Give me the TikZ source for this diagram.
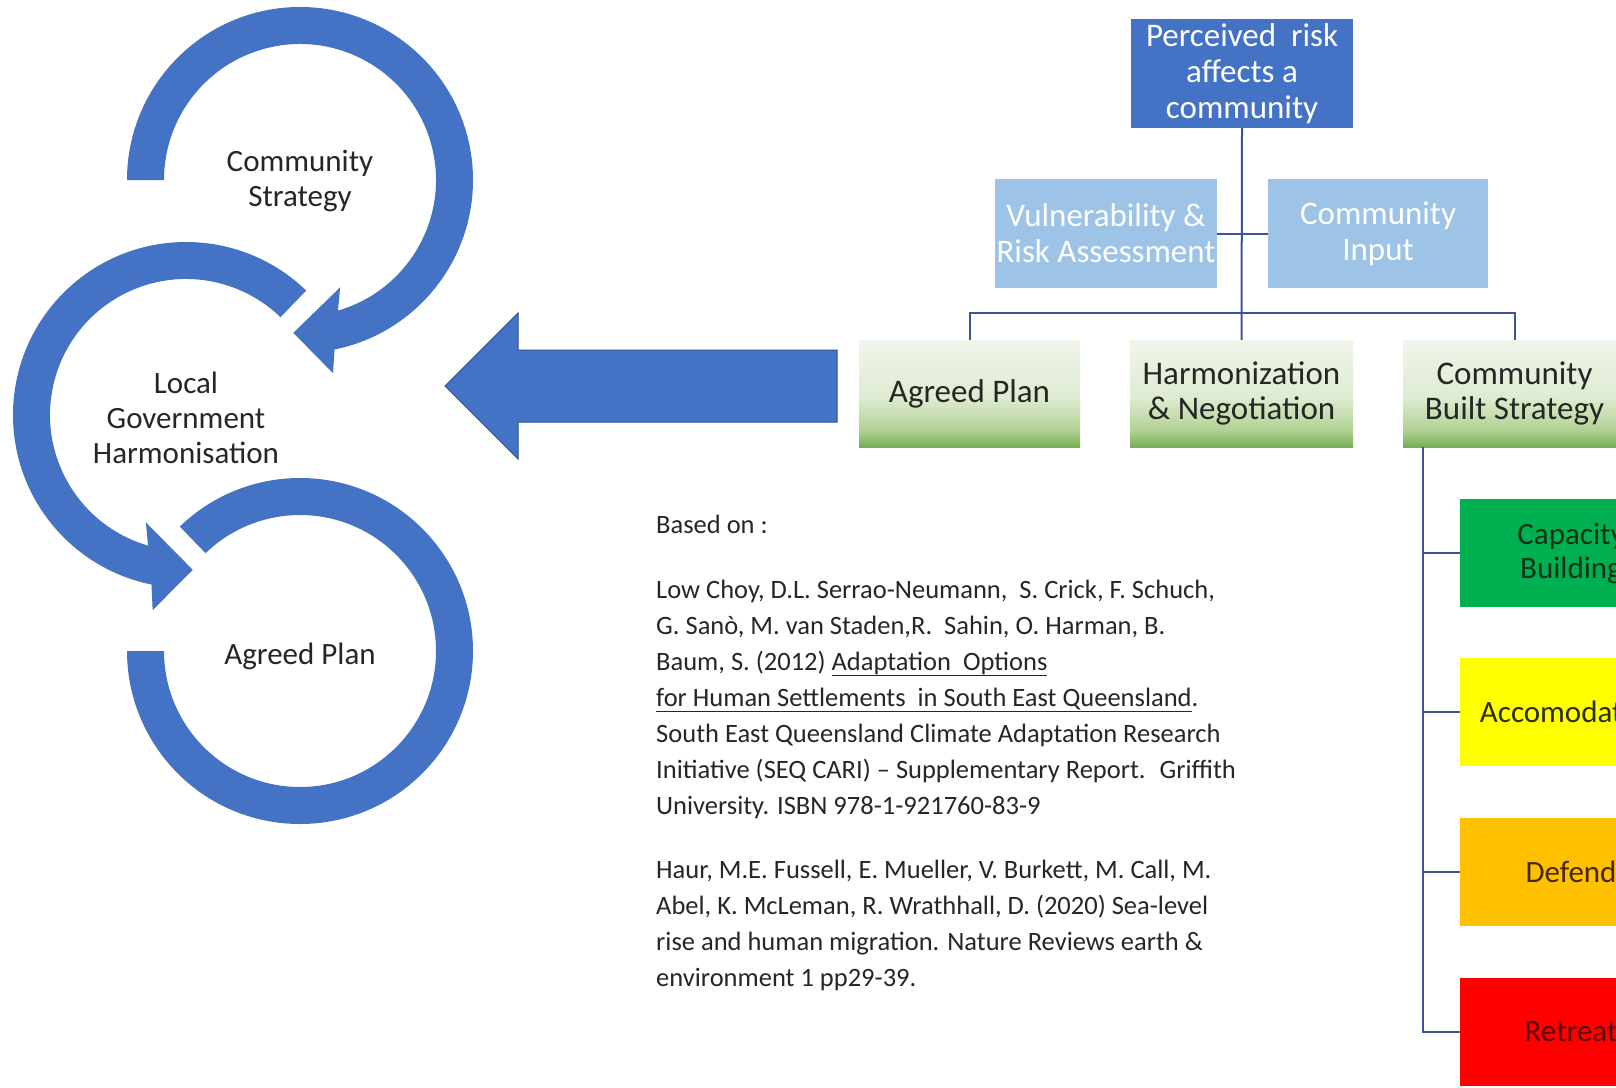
\documentclass[tikz,border=0pt]{standalone}
\usepackage{fontspec}
\setmainfont{Carlito}
\usetikzlibrary{calc,shadings}
\definecolor{ringblue}{RGB}{68,114,196}
\definecolor{arrowedge}{RGB}{47,82,143}
\definecolor{topblue}{RGB}{68,114,196}
\definecolor{lightblue}{RGB}{157,195,230}
\definecolor{lineblue}{RGB}{62,84,150}
\definecolor{gtop}{RGB}{241,245,236}
\definecolor{gmid}{RGB}{222,235,208}
\definecolor{glow}{RGB}{178,210,148}
\definecolor{gbot}{RGB}{118,174,80}
\definecolor{capgreen}{RGB}{0,176,80}
\definecolor{accyellow}{RGB}{255,255,0}
\definecolor{deforange}{RGB}{255,192,0}
\definecolor{retred}{RGB}{255,0,0}
\definecolor{captxt}{RGB}{8,50,24}
\definecolor{acctxt}{RGB}{45,45,5}
\definecolor{deftxt}{RGB}{70,40,0}
\definecolor{rettxt}{RGB}{95,5,5}
\definecolor{txt}{RGB}{38,38,38}
\pgfdeclareverticalshading{greenshade}{100bp}{color(0bp)=(gbot); color(25bp)=(gbot); color(33bp)=(glow); color(48bp)=(gmid); color(75bp)=(gtop); color(100bp)=(gtop)}
\tikzset{
  chartbox/.style={minimum width=222pt, minimum height=109pt, inner sep=0pt, align=center, font=\fontsize{33}{36}\selectfont},
  topbox/.style={chartbox, fill=topblue, text=white},
  assistbox/.style={chartbox, fill=lightblue, text=white},
  greenbox/.style={chartbox, minimum height=107pt, shade, shading=greenshade, text=txt, font=\fontsize{33}{35}\selectfont},
  optbox/.style={minimum width=222pt, minimum height=108pt, inner sep=0pt, align=center, font=\fontsize{31}{34}\selectfont},
  conn/.style={draw=lineblue, line width=2pt},
  ringlabel/.style={align=center, text=txt, inner sep=0pt, font=\fontsize{31}{35}\selectfont},
  ringfill/.style={fill=ringblue},
}
\begin{document}
\begin{tikzpicture}[x=1pt,y=-1pt]
\useasboundingbox (0,0) rectangle (1616,1087);
\clip (0,0) rectangle (1616,1087);
\fill[white] (0,0) rectangle (1616,1087);

% ---- circular arrows ----
\coordinate (c1) at (300,180);
\coordinate (c2) at (186,415);
\coordinate (c3) at (300,651);
\fill[ringfill] ($(c1)+(-180:173)$) arc[start angle=-180, end angle=78.5, radius=173]
  -- ($(c1)+(80.3:196)$) -- ($(c1)+(92.5:153)$) -- ($(c1)+(69.5:114.6)$)
  -- ($(c1)+(73.8:136)$) arc[start angle=73.8, end angle=-180, radius=136] -- cycle;
\fill[ringfill] ($(c2)+(-46:173)$) arc[start angle=-46, end angle=-258.5, radius=173]
  -- ($(c2)+(-260.3:198)$) -- ($(c2)+(-272.5:155)$) -- ($(c2)+(-249.5:114.6)$)
  -- ($(c2)+(-253.8:136)$) arc[start angle=-253.8, end angle=-46, radius=136] -- cycle;
\fill[ringfill] ($(c3)+(-134:173)$) arc[start angle=-134, end angle=180, radius=173]
  -- ($(c3)+(180:136)$) arc[start angle=180, end angle=-134, radius=136] -- cycle;

\node[ringlabel] (cstrat) at (300,181) {Community\\Strategy};
\node[ringlabel] (lgh) at (186,418) {Local\\Government\\Harmonisation};
\node[ringlabel] (aplan) at (300,656) {Agreed Plan};

% ---- big arrow ----
\filldraw[fill=ringblue, draw=arrowedge, line width=1pt]
  (837,350) -- (518,350) -- (518,313) -- (445,386) -- (518,459) -- (518,422) -- (837,422) -- cycle;

% ---- org chart ----
\node[topbox] (risk) at (1242,73.5) {Perceived\ \ risk\\affects a\\community};
\node[assistbox, minimum width=222pt] (vra) at (1106,233.5) {Vulnerability \&\\Risk Assessment};
\node[assistbox, minimum width=220pt] (cin) at (1378,233.5) {Community\\Input};
\node[greenbox, minimum width=221pt] (apl) at (969.5,393.5) {Agreed Plan};
\node[greenbox, minimum width=223pt] (hneg) at (1241.5,393.5) {Harmonization\\\& Negotiation};
\node[greenbox, minimum width=223pt] (cbs) at (1514.5,393.5) {Community\\Built Strategy};

\node[optbox, fill=capgreen, text=captxt] (cap) at (1571,553) {Capacity\\Building};
\node[optbox, fill=accyellow, text=acctxt] (acc) at (1571,712) {Accomodation};
\node[optbox, fill=deforange, text=deftxt] (def) at (1571,872) {Defend};
\node[optbox, fill=retred, text=rettxt] (ret) at (1571,1032) {Retreat};

\coordinate (bus) at (1242,313);
\draw[conn] (risk.south) -- (hneg.north);
\draw[conn] (vra.east) -- (cin.west);
\draw[conn] (apl.north) |- (bus) -| (cbs.north);
\coordinate (trunk) at ($(cbs.south west)+(20,0)$);
\draw[conn] (trunk) |- (ret.west);
\draw[conn] (cap.west) -- (cap.west -| trunk);
\draw[conn] (acc.west) -- (acc.west -| trunk);
\draw[conn] (def.west) -- (def.west -| trunk);

% ---- references ----
\node[anchor=base west, inner sep=0pt, text=txt] (refs) at (656,533) {\parbox[t]{620pt}{\raggedright\fontsize{26.5}{36}\selectfont
Based on :\\[29pt]
Low Choy, D.L. Serrao-Neumann,~ S. Crick, F. Schuch,\\
G. Sanò, M. van Staden,R.~ Sahin, O. Harman, B.\\
Baum, S. (2012) \underline{Adaptation~ Options}\\
\underline{for Human Settlements~ in South East Queensland}.\\
South East Queensland Climate Adaptation Research\\
Initiative (SEQ CARI) – Supplementary Report.~ Griffith\\
University. ISBN 978-1-921760-83-9\\[28pt]
Haur, M.E. Fussell, E. Mueller, V. Burkett, M. Call, M.\\
Abel, K. McLeman, R. Wrathhall, D. (2020) Sea-level\\
rise and human migration. Nature Reviews earth \&\\
environment 1 pp29-39.}};
\end{tikzpicture}
\end{document}
